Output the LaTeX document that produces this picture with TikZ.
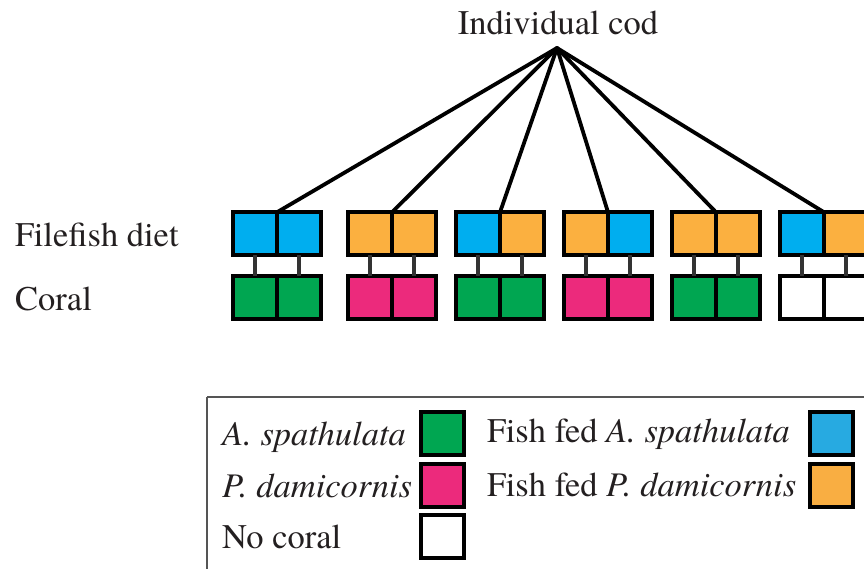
\documentclass[tikz,border=0pt]{standalone}
\usepackage{fontspec}
\IfFontExistsTF{texgyretermes-regular.otf}{%
  \setmainfont{texgyretermes}[Extension=.otf,UprightFont=*-regular,ItalicFont=*-italic,BoldFont=*-bold,BoldItalicFont=*-bolditalic]}{}
\definecolor{txt}{HTML}{231F20}
\definecolor{cblue}{HTML}{00AEEF}
\definecolor{corange}{HTML}{FBB040}
\definecolor{cgreen}{HTML}{00A651}
\definecolor{cpink}{HTML}{EC2A7C}
\definecolor{lblue}{HTML}{27AAE1}
\definecolor{lorange}{HTML}{F9AE42}
\definecolor{conn}{HTML}{333333}
\definecolor{frame}{HTML}{555555}
\begin{document}
\begin{tikzpicture}[x=1pt,y=-1pt,
  sq/.style={draw=black,line width=3.5pt,minimum width=44pt,minimum height=43pt,inner sep=0pt,outer sep=0pt},
  lsq/.style={draw=black,line width=4pt,minimum width=43pt,minimum height=43pt,inner sep=0pt,outer sep=0pt},
  lbl/.style={anchor=base west,inner sep=0pt,text=txt,font=\rmfamily\fontsize{34.5}{40}\selectfont},
  spoke/.style={line width=3.8pt,black},
  link/.style={line width=3.2pt,conn}]
\useasboundingbox (0,0) rectangle (864,569);
% title
\node[lbl,anchor=base] (title) at (558,35) {Individual cod};
\coordinate (apex) at (557,48);
% row labels
\node[lbl] (fd) at (15,247) {Filefish diet};
\node[lbl] (cr) at (15,310) {Coral};
% pairs
\foreach \i/\d/\tl/\tr/\bl/\br in {1/277/cblue/cblue/cgreen/cgreen,
  2/392/corange/corange/cpink/cpink,
  3/500/cblue/corange/cgreen/cgreen,
  4/608/corange/cblue/cpink/cpink,
  5/716/corange/corange/cgreen/cgreen,
  6/824/cblue/corange/white/white}{
  \node[sq,fill=\tl] (t\i l) at (\d-22,233.75) {};
  \node[sq,fill=\tr] (t\i r) at (\d+22,233.75) {};
  \node[sq,fill=\bl] (b\i l) at (\d-22,297.25) {};
  \node[sq,fill=\br] (b\i r) at (\d+22,297.25) {};
  \draw[link] (t\i l.south) -- (b\i l.north);
  \draw[link] (t\i r.south) -- (b\i r.north);
  \draw[spoke,line cap=round] (apex) -- (t\i l.north east);
}
% legend
\draw[frame,line width=2pt] (207,397) -- (207,575) (207,397) -- (870,397);
\node[lbl] (la) at (222,445) {\itshape A. spathulata};
\node[lbl] (lp) at (222,497) {\itshape P. damicornis};
\node[lbl] (ln) at (222,548) {No coral};
\node[lsq,fill=cgreen] (sa) at (442.5,433.7) {};
\node[lsq,fill=cpink] (sp) at (442.5,485) {};
\node[lsq,fill=white] (sn) at (442.5,536.5) {};
\node[lbl] (fa) at (487,442) {Fish fed \itshape A. spathulata};
\node[lbl] (fp) at (487,496) {Fish fed \itshape P. damicornis};
\node[lsq,fill=lblue] (sfa) at (831.8,433.5) {};
\node[lsq,fill=lorange] (sfp) at (831.8,485.3) {};
\end{tikzpicture}
\end{document}
